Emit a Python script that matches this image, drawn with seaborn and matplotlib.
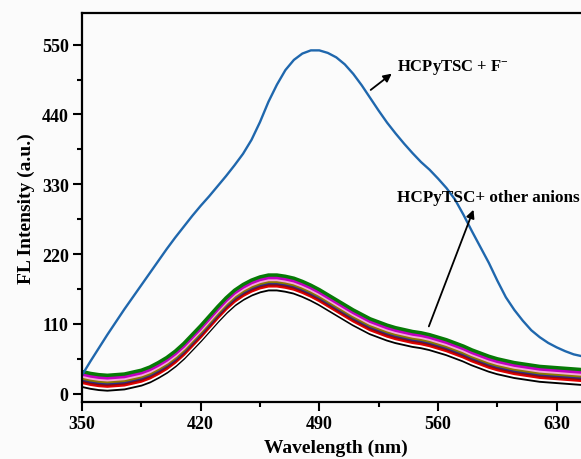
import matplotlib
matplotlib.use("Agg")
import matplotlib.pyplot as plt
import pandas as pd
import seaborn as sns

# wavelength grid (nm), 5 nm steps
wavelength = list(range(350, 655, 5))

# HCPyTSC + F-
fluoride = [29, 51, 72, 93, 113, 133, 152, 171, 190, 209,
            228, 246, 263, 280, 296, 311, 327, 343, 360, 378,
            400, 428, 460, 487, 510, 526, 536, 541, 541, 537,
            530, 519, 504, 486, 466, 446, 427, 410, 394, 379,
            365, 353, 339, 324, 306, 282, 256, 231, 206, 178,
            152, 132, 115, 100, 89, 80, 73, 67, 62, 59,
            56]

# HCPyTSC + other anions (bottom to top)
anion_black = [12, 9, 7, 6, 7, 8, 11, 14, 19, 26, 34, 44, 56, 70, 84, 99, 114, 128, 140, 149,
               156, 161, 164, 164, 162, 159, 154, 148, 141, 133, 125, 117, 109, 102, 95, 90, 85, 81, 78, 75,
               73, 70, 66, 62, 57, 52, 46, 41, 36, 32, 29, 26, 24, 22, 20, 19, 18, 17, 16, 15, 15]
anion_white = [15, 12, 10, 9, 10, 11, 14, 17, 22, 29, 37, 47, 59, 73, 87, 102, 117, 131, 143, 152,
               159, 164, 167, 167, 165, 162, 157, 151, 144, 136, 128, 120, 112, 105, 98, 93, 88, 84, 81, 78,
               76, 73, 69, 65, 60, 55, 49, 44, 39, 35, 32, 29, 27, 25, 23, 22, 21, 20, 19, 18, 18]
anion_red = [18, 15, 13, 12, 13, 14, 17, 20, 25, 32, 40, 50, 62, 76, 90, 105, 120, 134, 146, 155,
             162, 167, 170, 170, 168, 165, 160, 154, 147, 139, 131, 123, 115, 108, 101, 96, 91, 87, 84, 81,
             79, 76, 72, 68, 63, 58, 52, 47, 42, 38, 35, 32, 30, 28, 26, 25, 24, 23, 22, 21, 21]
anion_maroon = [21, 18, 16, 15, 16, 17, 20, 23, 28, 35, 43, 53, 65, 79, 93, 108, 123, 137, 149, 158,
                165, 170, 173, 173, 171, 168, 163, 157, 150, 142, 134, 126, 118, 111, 104, 99, 94, 90, 87, 84,
                82, 79, 75, 71, 66, 61, 55, 50, 45, 41, 38, 35, 33, 31, 29, 28, 27, 26, 25, 24, 24]
anion_navy = [23, 20, 18, 17, 18, 19, 22, 25, 30, 37, 45, 55, 67, 81, 95, 110, 125, 139, 151, 160,
              167, 172, 175, 175, 173, 170, 165, 159, 152, 144, 136, 128, 120, 113, 106, 101, 96, 92, 89, 86,
              84, 81, 77, 73, 68, 63, 57, 52, 47, 43, 40, 37, 35, 33, 31, 30, 29, 28, 27, 26, 26]
anion_olive = [25, 22, 20, 19, 20, 21, 24, 27, 32, 39, 47, 57, 69, 83, 97, 112, 127, 141, 153, 162,
               169, 174, 177, 177, 175, 172, 167, 161, 154, 146, 138, 130, 122, 115, 108, 103, 98, 94, 91, 88,
               86, 83, 79, 75, 70, 65, 59, 54, 49, 45, 42, 39, 37, 35, 33, 32, 31, 30, 29, 28, 28]
anion_pink = [28, 25, 23, 22, 23, 24, 27, 30, 35, 42, 50, 60, 72, 86, 100, 115, 130, 144, 156, 165,
              172, 177, 180, 180, 178, 175, 170, 164, 157, 149, 141, 133, 125, 118, 111, 106, 101, 97, 94, 91,
              89, 86, 82, 78, 73, 68, 62, 57, 52, 48, 45, 42, 40, 38, 36, 35, 34, 33, 32, 31, 31]
anion_magenta = [31, 28, 26, 25, 26, 27, 30, 33, 38, 45, 53, 63, 75, 89, 103, 118, 133, 147, 159, 168,
                 175, 180, 183, 183, 181, 178, 173, 167, 160, 152, 144, 136, 128, 121, 114, 109, 104, 100, 97, 94,
                 92, 89, 85, 81, 76, 71, 65, 60, 55, 51, 48, 45, 43, 41, 39, 38, 37, 36, 35, 34, 34]
anion_green = [35, 32, 30, 29, 30, 31, 34, 37, 42, 49, 57, 67, 79, 93, 107, 122, 137, 151, 163, 172,
               179, 184, 187, 187, 185, 182, 177, 171, 164, 156, 148, 140, 132, 125, 118, 113, 108, 104, 101, 98,
               96, 93, 89, 85, 80, 75, 69, 64, 59, 55, 52, 49, 47, 45, 43, 42, 41, 40, 39, 38, 38]

anion_series = [
    (anion_black, "black"),
    (anion_white, "white"),
    (anion_red, "#e00000"),
    (anion_maroon, "#8b0a0a"),
    (anion_navy, "#2a2a8a"),
    (anion_olive, "#8a7a00"),
    (anion_pink, "#f7a8dc"),
    (anion_magenta, "#c000c0"),
    (anion_green, "#067a06"),
]

x_ticks = [350, 420, 490, 560, 630]
y_ticks = [0, 110, 220, 330, 440, 550]

sns.set_style("ticks")
plt.rcParams["font.family"] = ["Liberation Serif", "DejaVu Serif"]
plt.rcParams["font.weight"] = "bold"
plt.rcParams["mathtext.fontset"] = "custom"
plt.rcParams["mathtext.rm"] = "Liberation Serif:bold"
plt.rcParams["mathtext.bf"] = "Liberation Serif:bold"
plt.rcParams["mathtext.default"] = "bf"
for key in ["text.color", "axes.labelcolor", "xtick.color", "ytick.color"]:
    plt.rcParams[key] = "black"

bg = "#fbfbfb"
fig = plt.figure(figsize=(5.81, 4.60), dpi=100, facecolor=bg)
ax = fig.add_axes([0.141, 0.124, 0.8756, 0.8457], facecolor=bg)

for values, color in anion_series:
    df = pd.DataFrame({"wl": wavelength, "fl": values})
    sns.lineplot(data=df, x="wl", y="fl", color=color, linewidth=2.5, ax=ax)

df_f = pd.DataFrame({"wl": wavelength, "fl": fluoride})
sns.lineplot(data=df_f, x="wl", y="fl", color="#1f67ad", linewidth=1.7, ax=ax)

ax.set_xlim(350, 650)
ax.set_ylim(-13, 600)
ax.set_xticks(x_ticks)
ax.set_yticks(y_ticks)
ax.set_xticks([385, 455, 525, 595], minor=True)
ax.set_yticks([55, 165, 275, 385, 495], minor=True)
ax.tick_params(which="major", direction="out", length=6.5, width=1.5,
               labelsize=13, pad=3)
ax.tick_params(which="minor", direction="out", length=3.5, width=1.5)
for lbl in ax.get_xticklabels() + ax.get_yticklabels():
    lbl.set_fontweight("bold")
for side in ["left", "bottom", "top", "right"]:
    ax.spines[side].set_linewidth(1.6)
    ax.spines[side].set_color("black")

ax.set_xlabel("Wavelength (nm)", fontsize=14, fontweight="bold", labelpad=5)
ax.set_ylabel("FL Intensity (a.u.)", fontsize=14, fontweight="bold", labelpad=5)

ax.annotate("", xy=(534, 507), xytext=(519, 476),
            arrowprops=dict(arrowstyle="-|>", color="black", lw=1.3,
                            mutation_scale=12))
ax.text(536, 515, "HCPyTSC + F$^{-}$", fontsize=12, fontweight="bold",
        va="center", ha="left")

ax.annotate("", xy=(581.5, 294), xytext=(554, 102),
            arrowprops=dict(arrowstyle="-|>", color="black", lw=1.3,
                            mutation_scale=12))
ax.text(536, 310, "HCPyTSC+ other anions", fontsize=12.3, fontweight="bold",
        va="center", ha="left")

fig.savefig("out.png", dpi=100, facecolor=bg)
